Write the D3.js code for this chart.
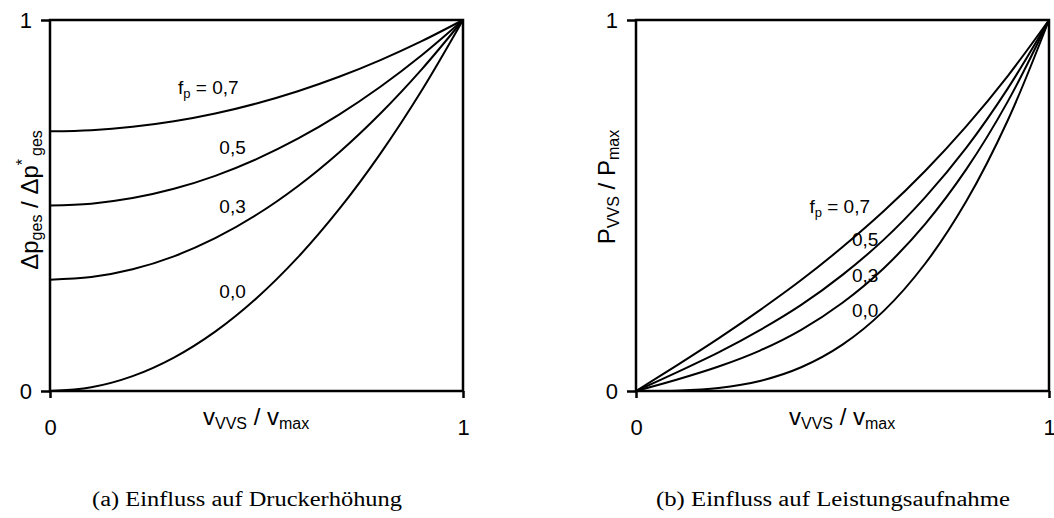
<!DOCTYPE html>
<html>
<head>
<meta charset="utf-8">
<script src="https://cdn.jsdelivr.net/npm/d3@7"></script>
<style>
  body { margin: 0; background: #fff; }
  svg { display: block; }
  text { font-family: "Liberation Sans", Arial, sans-serif; fill: #000; }
  .caption { font-family: "Liberation Serif", "Times New Roman", serif; }
</style>
</head>
<body>
<div id="chart"></div>
<script>
const vRatio = [0, 0.1, 0.2, 0.3, 0.4, 0.5, 0.6, 0.7, 0.8, 0.9, 1]
const fpLabels = ['0,7', '0,5', '0,3', '0,0']

// (a) pressure ratio
const druckFp07 = [0.700, 0.703, 0.712, 0.727, 0.748, 0.775, 0.808, 0.847, 0.892, 0.943, 1]
const druckFp05 = [0.500, 0.505, 0.520, 0.545, 0.580, 0.625, 0.680, 0.745, 0.820, 0.905, 1]
const druckFp03 = [0.300, 0.307, 0.328, 0.363, 0.412, 0.475, 0.552, 0.643, 0.748, 0.867, 1]
const druckFp00 = [0.000, 0.010, 0.040, 0.090, 0.160, 0.250, 0.360, 0.490, 0.640, 0.810, 1]

// (b) power ratio
const leistFp07 = [0, 0.070, 0.142, 0.218, 0.299, 0.388, 0.485, 0.593, 0.714, 0.849, 1]
const leistFp05 = [0, 0.051, 0.104, 0.164, 0.232, 0.313, 0.408, 0.522, 0.656, 0.815, 1]
const leistFp03 = [0, 0.031, 0.066, 0.109, 0.165, 0.238, 0.331, 0.450, 0.598, 0.780, 1]
const leistFp00 = [0, 0.001, 0.008, 0.027, 0.064, 0.125, 0.216, 0.343, 0.512, 0.729, 1]

const axisTicks = [0, 1]
const captions = ['(a) Einfluss auf Druckerhöhung', '(b) Einfluss auf Leistungsaufnahme']

let width = 1054
let height = 518
let plotTop = 20
let plotBottom = 391
let plotW = 413

let svg = d3.select('#chart')
    .append('svg')
    .attr('width', width)
    .attr('height', height)

function drawPanel(x0, series, labelPos, yTitle, caption) {
    let x = d3.scaleLinear().domain([0, 1]).range([x0, x0 + plotW])
    let y = d3.scaleLinear().domain([0, 1]).range([plotBottom, plotTop])

    let g = svg.append('g')

    // left axis ticks
    let yAx = g.append('g')
        .attr('transform', `translate(${x0},0)`)
        .call(d3.axisLeft(y).tickValues(axisTicks).tickFormat(d3.format('d')).tickSize(9).tickPadding(9))
    yAx.select('.domain').remove()

    let xAx = g.append('g')
        .attr('transform', `translate(0,${plotBottom})`)
        .call(d3.axisBottom(x).tickValues(axisTicks).tickFormat(d3.format('d')).tickSize(7).tickPadding(21))
    xAx.select('.domain').remove()

    g.selectAll('.tick line').attr('stroke', '#000').attr('stroke-width', 2.5)
    g.selectAll('.tick text')
        .style('font-size', '22px')
        .style('font-family', '"Liberation Sans", Arial, sans-serif')

    // curves
    let line = d3.line()
        .x((d, i) => x(vRatio[i]))
        .y((d) => y(d))
        .curve(d3.curveCatmullRom)

    g.selectAll('.curve')
        .data(series)
        .enter().append('path')
        .attr('class', 'curve')
        .attr('d', (d) => line(d))
        .attr('fill', 'none')
        .attr('stroke', '#000')
        .attr('stroke-width', 2)

    // frame
    g.append('rect')
        .attr('x', x(0))
        .attr('y', y(1))
        .attr('width', x(1) - x(0))
        .attr('height', y(0) - y(1))
        .attr('fill', 'none')
        .attr('stroke', '#000')
        .attr('stroke-width', 2.5)

    // curve labels
    labelPos.forEach((p, i) => {
        let t = g.append('text')
            .attr('x', x(p[0]))
            .attr('y', y(p[1]))
            .style('font-size', '19px')
        if (i === 0) {
            t.append('tspan').text('f')
            t.append('tspan').attr('dy', 4).style('font-size', '13px').text('p')
            t.append('tspan').attr('dy', -4).text(' = ' + fpLabels[i])
        } else {
            t.text(fpLabels[i])
        }
    })

    // x title
    let xt = g.append('text')
        .attr('x', x0 + 153)
        .attr('y', 425)
        .style('font-size', '24px')
    xt.append('tspan').text('v')
    xt.append('tspan').attr('dy', 4).style('font-size', '16px').text('VVS')
    xt.append('tspan').attr('dy', -4).text(' / v')
    xt.append('tspan').attr('dy', 4).style('font-size', '16px').text('max')

    // y title
    let yt = g.append('text')
        .attr('transform', `translate(${yTitle.x},${yTitle.y}) rotate(-90)`)
        .attr('text-anchor', 'middle')
        .style('font-size', '24px')
    yTitle.parts.forEach((p) => {
        let s = yt.append('tspan').text(p.t)
        if (p.small) s.style('font-size', '16px')
        if (p.dy) s.attr('dy', p.dy)
        if (p.dx) s.attr('dx', p.dx)
    })

    // caption
    svg.append('text')
        .attr('class', 'caption')
        .attr('x', caption.x)
        .attr('y', 506)
        .attr('textLength', caption.w)
        .attr('lengthAdjust', 'spacingAndGlyphs')
        .style('font-size', '20px')
        .text(caption.text)
}

drawPanel(50,
    [druckFp07, druckFp05, druckFp03, druckFp00],
    [[0.31, 0.80], [0.41, 0.64], [0.41, 0.48], [0.41, 0.25]],
    {
        x: 38, y: 200,
        parts: [
            { t: 'Δp' },
            { t: 'ges', small: true, dy: 4 },
            { t: ' / Δp', dy: -4 },
            { t: '*', small: true, dy: -10 },
            { t: 'ges', small: true, dy: 14, dx: 3 }
        ]
    },
    { x: 92, w: 310, text: captions[0] })

drawPanel(636,
    [leistFp07, leistFp05, leistFp03, leistFp00],
    [[0.42, 0.48], [0.523, 0.39], [0.523, 0.295], [0.523, 0.20]],
    {
        x: 615, y: 187,
        parts: [
            { t: 'P' },
            { t: 'VVS', small: true, dy: 4 },
            { t: ' / P', dy: -4 },
            { t: 'max', small: true, dy: 4 }
        ]
    },
    { x: 656, w: 354, text: captions[1] })
</script>
</body>
</html>
